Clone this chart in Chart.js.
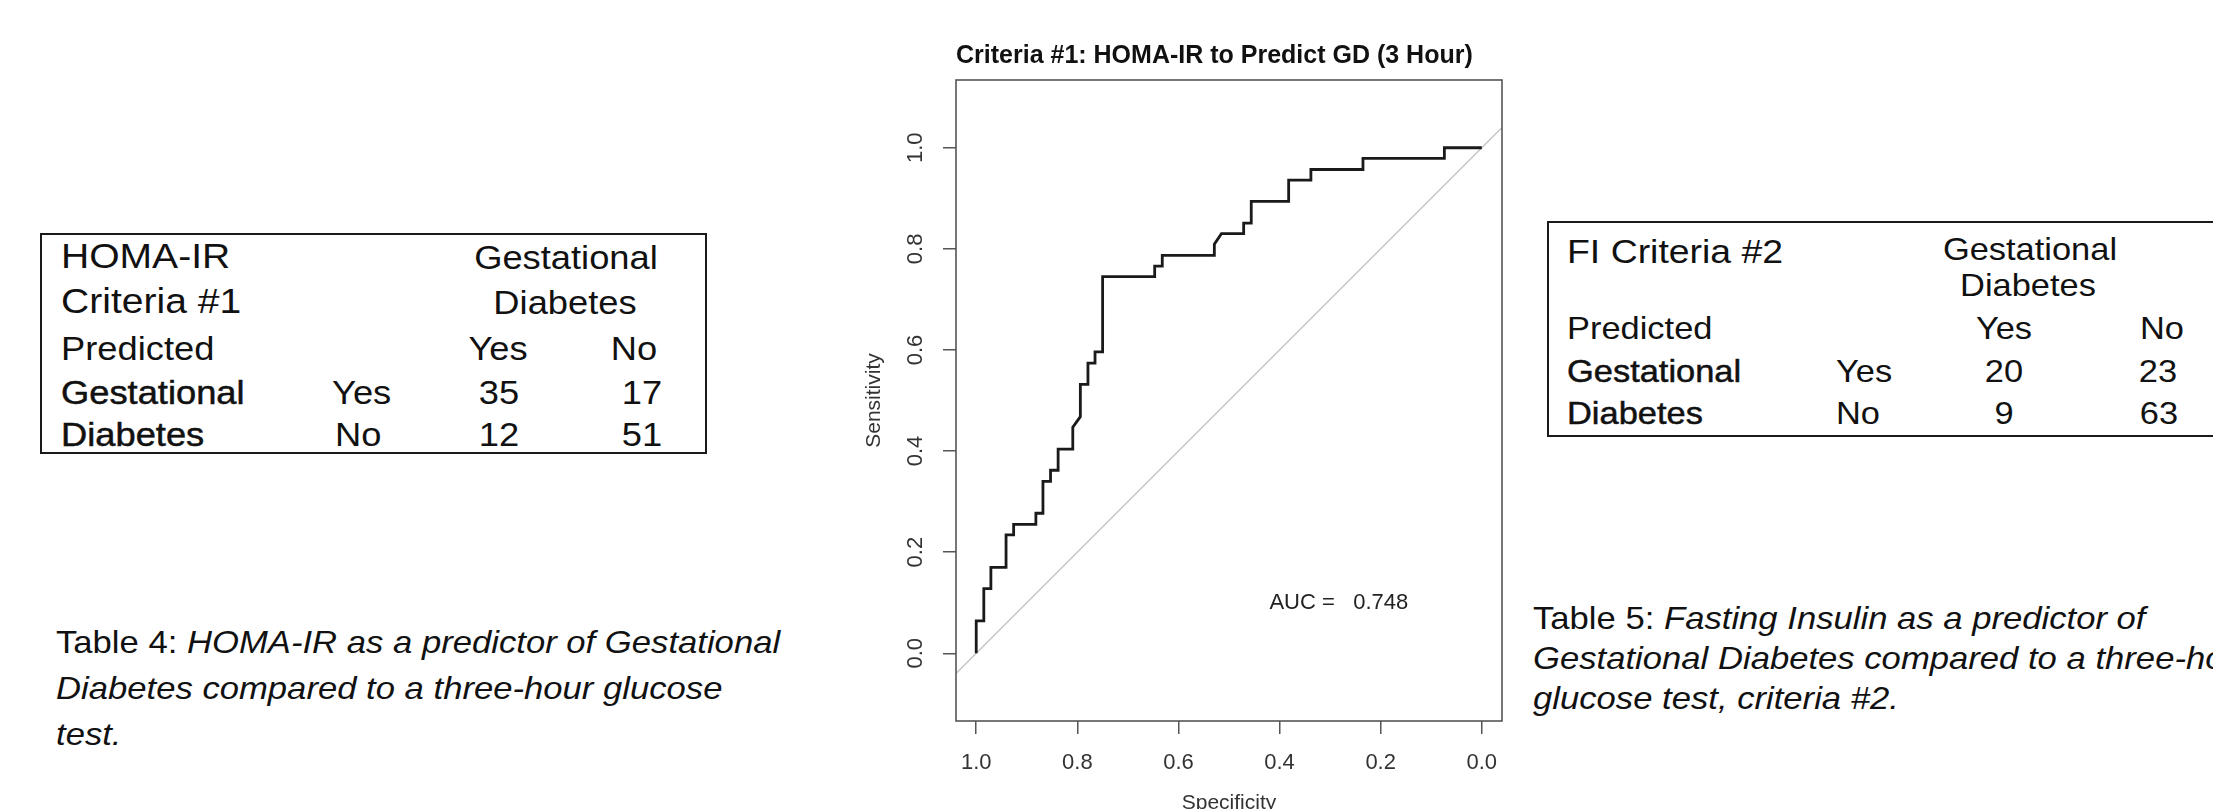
<!DOCTYPE html>
<html lang="en">
<head>
<meta charset="utf-8">
<title>Criteria #1: HOMA-IR to Predict GD (3 Hour)</title>
<script src="https://cdn.jsdelivr.net/npm/chart.js@4.4.1/dist/chart.umd.min.js"></script>
<style>
  html, body { margin: 0; padding: 0; background: #fff; }
  body {
    position: relative; width: 2213px; height: 809px; overflow: hidden;
    font-family: "Liberation Sans", Arial, Helvetica, sans-serif; color: #111;
  }
  #roc-box { position: absolute; left: 860px; top: 0; width: 660px; height: 830px; }
  .ctab { position: absolute; border: 2px solid #1a1a1a; box-sizing: border-box; }
  .cell {
    position: absolute; white-space: nowrap; line-height: 1;
    transform: translateY(-50%) scaleX(1.1); transform-origin: 0 50%;
  }
  .cell.mid { width: 200px; text-align: center; transform-origin: 50% 50%; }
  .cell.heavy { -webkit-text-stroke: 0.5px #111; }
  .cap {
    position: absolute; white-space: nowrap; font-size: 31.5px;
    transform: scaleX(1.1); transform-origin: 0 0;
  }
  .cap i { font-style: italic; }
</style>
</head>
<body>

<div id="roc-box"><canvas id="roc" width="660" height="830"></canvas></div>

<div class="ctab" style="left:40px; top:233px; width:667px; height:221px"></div>
<div class="ctab" style="left:1547px; top:221px; width:720px; height:216px"></div>

<div class="cap" style="left:56px; top:619px; line-height:46px">
  Table 4: <i>HOMA-IR as a predictor of Gestational</i><br>
  <i>Diabetes compared to a three-hour glucose</i><br>
  <i>test.</i>
</div>
<div class="cap" style="left:1533px; top:598px; line-height:40px">
  Table 5: <i>Fasting Insulin as a predictor of</i><br>
  <i>Gestational Diabetes compared to a three-hour</i><br>
  <i>glucose test, criteria #2.</i>
</div>

<script>
/* ── ROC data ────────────────────────────── */
const specTicks = [1.0, 0.8, 0.6, 0.4, 0.2, 0.0];
const sensTicks = [0.0, 0.2, 0.4, 0.6, 0.8, 1.0];
const specRange = [-0.04, 1.04];
const sensRange = [-0.134, 1.134];

const rocSpec = [1.000, 1.000, 0.985, 0.985, 0.971, 0.971, 0.941, 0.941, 0.926, 0.926,
                 0.882, 0.882, 0.868, 0.868, 0.853, 0.853, 0.838, 0.838, 0.809, 0.809,
                 0.794, 0.794, 0.779, 0.779, 0.765, 0.765, 0.750, 0.750, 0.647, 0.647,
                 0.632, 0.632, 0.529, 0.529, 0.515, 0.471, 0.471, 0.456, 0.456, 0.382,
                 0.382, 0.338, 0.338, 0.235, 0.235, 0.074, 0.074, 0.000];
const rocSens = [0.000, 0.064, 0.064, 0.128, 0.128, 0.170, 0.170, 0.234, 0.234, 0.255,
                 0.255, 0.277, 0.277, 0.340, 0.340, 0.362, 0.362, 0.404, 0.404, 0.447,
                 0.468, 0.532, 0.532, 0.574, 0.574, 0.596, 0.596, 0.745, 0.745, 0.766,
                 0.766, 0.787, 0.787, 0.809, 0.830, 0.830, 0.851, 0.851, 0.894, 0.894,
                 0.936, 0.936, 0.957, 0.957, 0.979, 0.979, 1.000, 1.000];

const chanceSpec = [1.04, -0.04];
const chanceSens = [-0.04, 1.04];

const aucText = 'AUC =   0.748';
const aucAt   = [0.42, 0.10];

/* ── Contingency tables ─────────────────── */
const homaCounts = [[35, 17], [12, 51]];
const fiCounts   = [[20, 23], [9, 63]];

function cell(text, x, y, size, mid, heavy) {
  const el = document.createElement('div');
  el.className = 'cell' + (mid ? ' mid' : '') + (heavy ? ' heavy' : '');
  el.textContent = text;
  el.style.fontSize = size + 'px';
  el.style.left = (mid ? x - 100 : x) + 'px';
  el.style.top = y + 'px';
  document.body.appendChild(el);
}

// Table 4 (HOMA-IR)
cell('HOMA-IR', 61, 257, 35.5);
cell('Criteria #1', 61, 302, 35.5);
cell('Gestational', 566, 257, 33, true);
cell('Diabetes', 565, 302, 33, true);
cell('Predicted', 61, 348, 33);
cell('Yes', 498, 348, 33, true);
cell('No', 634, 348, 33, true);
cell('Gestational', 61, 392, 33, false, true);
cell('Diabetes', 61, 434, 33, false, true);
cell('Yes', 332, 392, 33);
cell('No', 335, 434, 33);
cell(homaCounts[0][0], 499, 392, 33, true);
cell(homaCounts[0][1], 642, 392, 33, true);
cell(homaCounts[1][0], 499, 434, 33, true);
cell(homaCounts[1][1], 642, 434, 33, true);

// Table 5 (fasting insulin)
cell('FI Criteria #2', 1567, 251, 34);
cell('Gestational', 2030, 250, 31.3, true);
cell('Diabetes', 2028, 286, 31.3, true);
cell('Predicted', 1567, 329, 31.3);
cell('Yes', 2004, 329, 31.3, true);
cell('No', 2162, 329, 31.3, true);
cell('Gestational', 1567, 372, 31.3, false, true);
cell('Diabetes', 1567, 414, 31.3, false, true);
cell('Yes', 1836, 372, 31.3);
cell('No', 1836, 414, 31.3);
cell(fiCounts[0][0], 2004, 372, 31.3, true);
cell(fiCounts[0][1], 2158, 372, 31.3, true);
cell(fiCounts[1][0], 2004, 414, 31.3, true);
cell(fiCounts[1][1], 2159, 414, 31.3, true);

/* ── Plot helpers ───────────────────────── */
const plotFrame = {
  id: 'plotFrame',
  afterDatasetsDraw(chart) {
    const { ctx, chartArea: a } = chart;
    ctx.save();
    ctx.strokeStyle = '#555';
    ctx.lineWidth = 1.6;
    ctx.strokeRect(a.left, a.top, a.right - a.left, a.bottom - a.top);
    ctx.restore();
  },
};

const aucLabel = {
  id: 'aucLabel',
  afterDatasetsDraw(chart) {
    const { ctx, scales: { x, y } } = chart;
    ctx.save();
    ctx.font = '22px "Liberation Sans", Arial, sans-serif';
    ctx.fillStyle = '#222';
    ctx.textAlign = 'left';
    ctx.textBaseline = 'middle';
    ctx.fillText(aucText, x.getPixelForValue(aucAt[0]), y.getPixelForValue(aucAt[1]));
    ctx.restore();
  },
};

Chart.defaults.font.family = '"Liberation Sans", Arial, Helvetica, sans-serif';

const tickGrid = { drawOnChartArea: false, drawTicks: true, tickLength: 13, color: '#555', lineWidth: 1.5 };

new Chart(document.getElementById('roc'), {
  type: 'scatter',
  data: {
    datasets: [
      {
        label: 'ROC',
        data: rocSpec.map((s, i) => ({ x: s, y: rocSens[i] })),
        showLine: true,
        borderColor: '#1a1a1a',
        borderWidth: 2.8,
        pointRadius: 0,
        tension: 0,
      },
      {
        label: 'Chance',
        data: chanceSpec.map((s, i) => ({ x: s, y: chanceSens[i] })),
        showLine: true,
        borderColor: '#c4c4c4',
        borderWidth: 1.4,
        pointRadius: 0,
      },
    ],
  },
  options: {
    responsive: false,
    animation: false,
    devicePixelRatio: 1,
    layout: { padding: { left: 0, right: 18, top: 0, bottom: 0 } },
    plugins: {
      legend: { display: false },
      tooltip: { enabled: false },
      title: {
        display: true,
        text: 'Criteria #1: HOMA-IR to Predict GD (3 Hour)',
        fullSize: false,
        align: 'start',
        color: '#111',
        font: { size: 25, weight: 'bold' },
        padding: { top: 41, bottom: 9 },
      },
    },
    scales: {
      x: {
        type: 'linear', reverse: true, min: specRange[0], max: specRange[1],
        afterBuildTicks: s => { s.ticks = specTicks.map(v => ({ value: v })); },
        afterFit: s => { s.height = 109; },
        grid: tickGrid,
        border: { display: false },
        ticks: { color: '#333', font: { size: 22 }, padding: 16, maxRotation: 0, autoSkip: false,
                 callback: v => Number(v).toFixed(1) },
        title: { display: true, text: 'Specificity', color: '#333', font: { size: 21 },
                 padding: { top: 0, bottom: 14 } },
      },
      y: {
        type: 'linear', min: sensRange[0], max: sensRange[1],
        afterBuildTicks: s => { s.ticks = sensTicks.map(v => ({ value: v })); },
        afterFit: s => { s.width = 96; },
        grid: tickGrid,
        border: { display: false },
        ticks: { color: '#333', font: { size: 22 }, padding: 12, minRotation: 90, maxRotation: 90,
                 crossAlign: 'center', autoSkip: false, callback: v => Number(v).toFixed(1) },
        title: { display: true, text: 'Sensitivity', color: '#333', font: { size: 21 },
                 padding: { top: 2, bottom: 0 } },
      },
    },
  },
  plugins: [plotFrame, aucLabel],
});
</script>
</body>
</html>
